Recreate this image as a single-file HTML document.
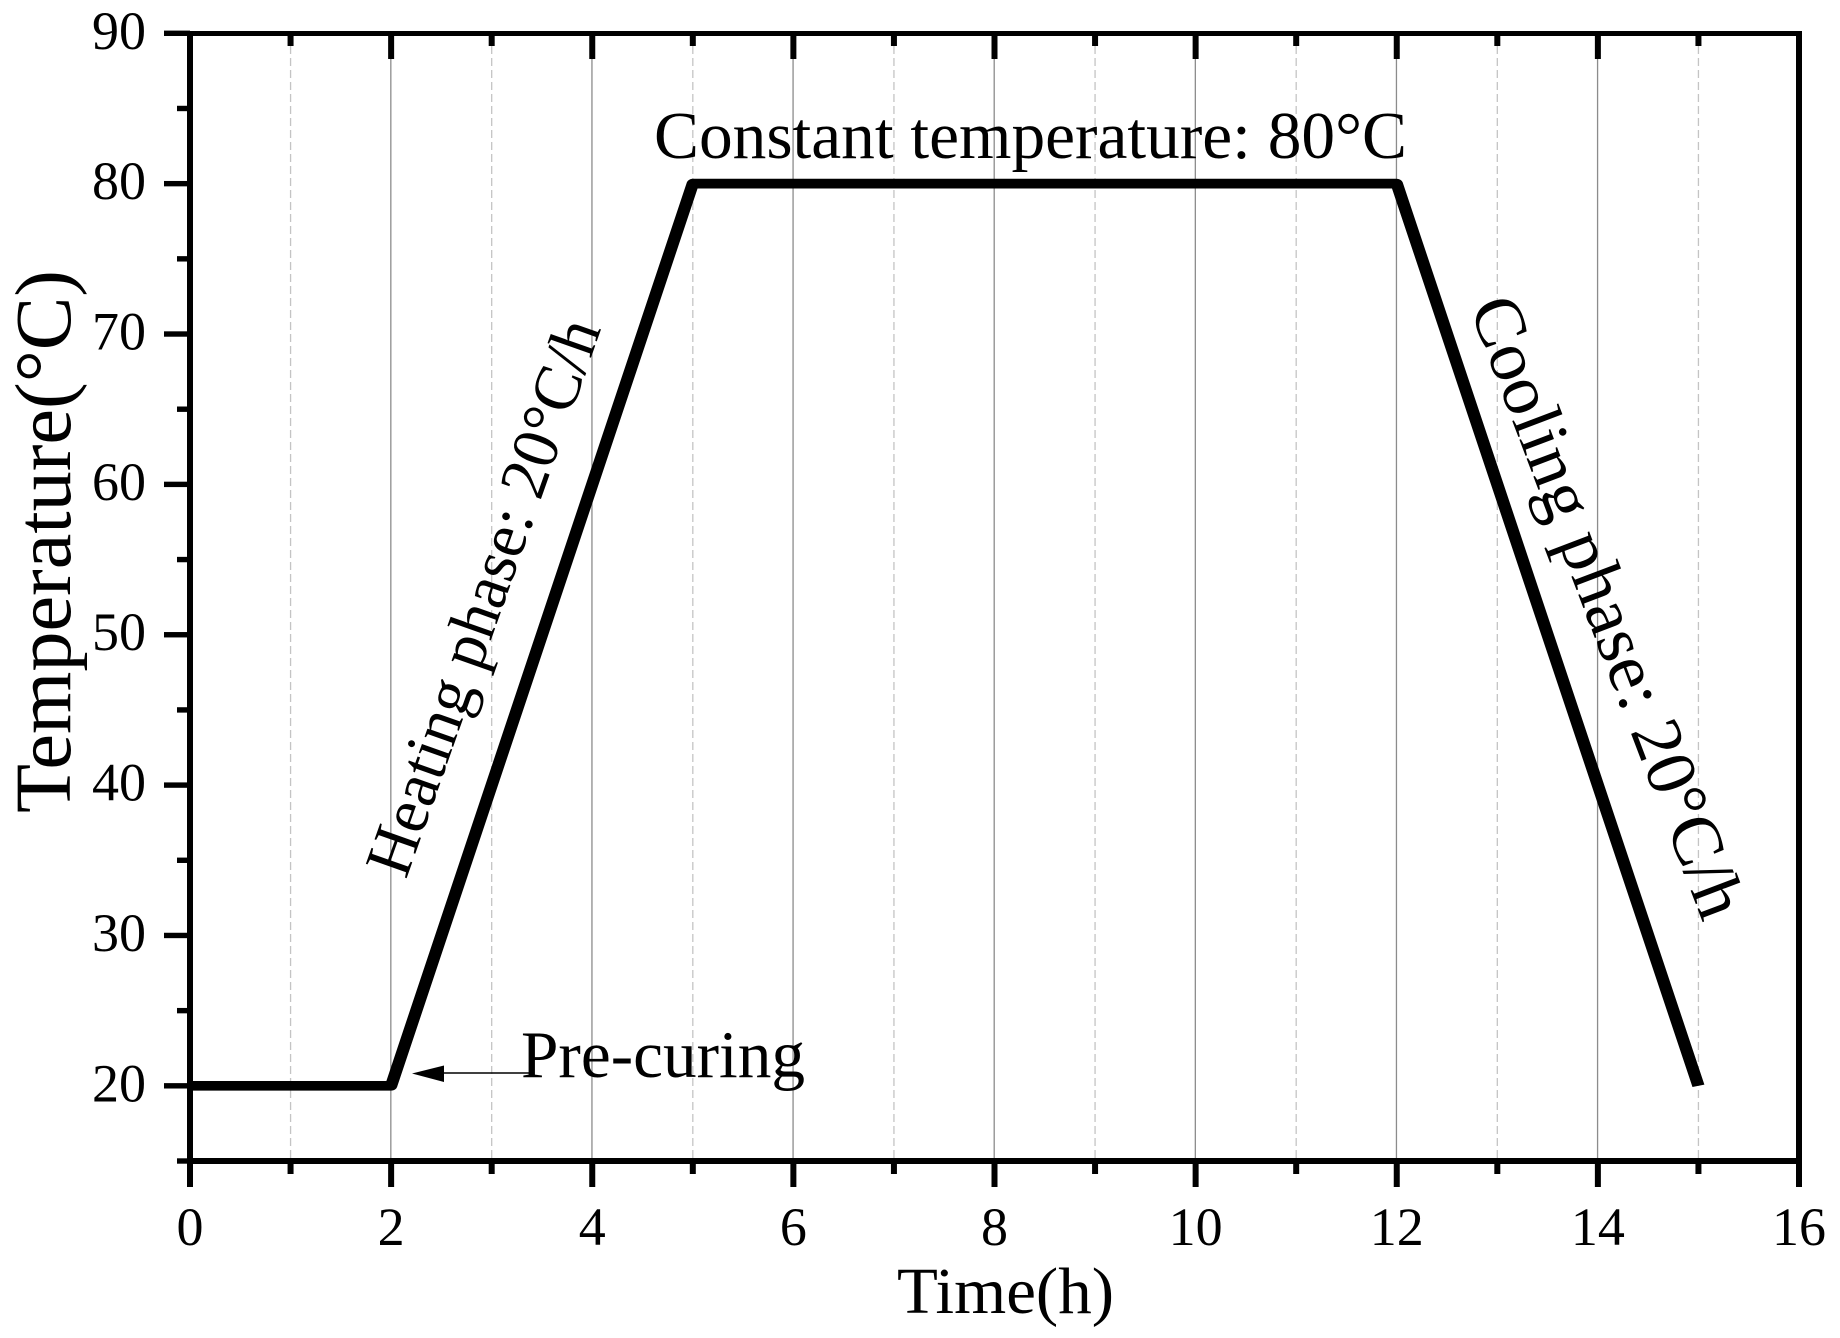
<!DOCTYPE html>
<html lang="en">
<head>
<meta charset="utf-8">
<title>Temperature vs Time</title>
<style>
html,body{margin:0;padding:0;background:#fff;width:1840px;height:1338px;overflow:hidden}
svg{display:block}
text{font-family:"Liberation Serif",serif;fill:#000}
</style>
</head>
<body>
<svg id="chart" width="1840" height="1338" viewBox="0 0 1840 1338" xmlns="http://www.w3.org/2000/svg">
  <rect x="0" y="0" width="1840" height="1338" fill="#fff"/>
  <g id="grid"></g>
  <g id="series"></g>
  <g id="axes"></g>
  <g id="labels"></g>
  <text x="897" y="1313" font-size="66" textLength="217" lengthAdjust="spacingAndGlyphs">Time(h)</text>
  <text transform="translate(70 813) rotate(-90)" font-size="79" textLength="543" lengthAdjust="spacingAndGlyphs">Temperature(°C)</text>
  <text x="654" y="158" font-size="67" textLength="753" lengthAdjust="spacingAndGlyphs">Constant temperature: 80°C</text>
  <text x="521" y="1077" font-size="67" textLength="284" lengthAdjust="spacingAndGlyphs">Pre-curing</text>
  <text transform="translate(406 880) rotate(-70.5)" font-size="66" textLength="585" lengthAdjust="spacingAndGlyphs">Heating phase: 20°C/h</text>
  <text transform="translate(1469 307) rotate(69.2)" font-size="71" textLength="659" lengthAdjust="spacingAndGlyphs">Cooling phase: 20°C/h</text>
  <line x1="443" y1="1073" x2="530" y2="1073" stroke="#000" stroke-width="1.5"/>
  <polygon points="412,1073.5 444,1065.5 444,1082" fill="#000"/>
</svg>
<script>
const timeValues = [0, 2, 5, 12, 15];
const temperatureValues = [20, 20, 80, 80, 20];
const xMajorTicks = [0, 2, 4, 6, 8, 10, 12, 14, 16];
const xMinorTicks = [1, 3, 5, 7, 9, 11, 13, 15];
const yMajorTicks = [20, 30, 40, 50, 60, 70, 80, 90];
const yMinorTicks = [15, 25, 35, 45, 55, 65, 75, 85];
const xDomain = [0, 16];
const yDomain = [15, 90];

const NS = 'http://www.w3.org/2000/svg';
const plotLeft = 190, plotRight = 1799, plotTop = 33.3, plotBottom = 1161;
const strokeStretch = 1.27;
const xScale = function (v) { return plotLeft + (v - xDomain[0]) / (xDomain[1] - xDomain[0]) * (plotRight - plotLeft); };
const yScale = function (v) { return plotBottom - (v - yDomain[0]) / (yDomain[1] - yDomain[0]) * (plotBottom - plotTop); };

function mk(tag, attrs, parent) {
  const el = document.createElementNS(NS, tag);
  for (const k in attrs) el.setAttribute(k, attrs[k]);
  parent.appendChild(el);
  return el;
}
const grid = document.getElementById('grid');
const axes = document.getElementById('axes');
const series = document.getElementById('series');
const labels = document.getElementById('labels');

xMajorTicks.forEach(function (v) {
  const x = xScale(v);
  if (v !== xDomain[0] && v !== xDomain[1]) {
    const g = mk('line', { x1: x - 0.3, x2: x - 0.3, y1: 59, y2: 1158, stroke: '#8c8c8c', 'stroke-width': 1.3 }, grid);
    
    
    const top = mk('rect', { x: x - 3, y: 33, width: 6, height: 26, fill: '#000' }, axes);
    
    
  }
  const t = mk('rect', { x: x - 3, y: 1161, width: 6, height: 26, fill: '#000' }, axes);
  
  
  const lab = mk('text', { x: x, y: 1245, 'font-size': 54, 'text-anchor': 'middle' }, labels);
  lab.textContent = String(v);
  
  
});

xMinorTicks.forEach(function (v) {
  const x = xScale(v);
  const g = mk('line', { x1: x, x2: x, y1: 46, y2: 1158, stroke: '#c4c4c4', 'stroke-width': 1.3, 'stroke-dasharray': '8 4' }, grid);
  
  
  const top = mk('rect', { x: x - 3, y: 33, width: 6, height: 13, fill: '#000' }, axes);
  
  
  const t = mk('rect', { x: x - 3, y: 1161, width: 6, height: 13, fill: '#000' }, axes);
  
  
});

yMajorTicks.forEach(function (v) {
  const y = yScale(v);
  const t = mk('rect', { x: 164, y: y - 2.7, width: 26, height: 5.4, fill: '#000' }, axes);
  
  
  const lab = mk('text', { x: 146, y: y + 15.5, 'font-size': 54, 'text-anchor': 'end' }, labels);
  lab.textContent = String(v);
  
  
});

yMinorTicks.forEach(function (v) {
  const y = yScale(v);
  const t = mk('rect', { x: 177, y: y - 2.7, width: 13, height: 5.4, fill: '#000' }, axes);
  
  
});

const leftSpine = mk('rect', { x: 187, y: 31, width: 6, height: 1156, fill: '#000' }, axes);


const rightSpine = mk('rect', { x: 1796, y: 31, width: 6, height: 1156, fill: '#000' }, axes);


const topSpine = mk('rect', { x: 187, y: 31, width: 1615, height: 5, fill: '#000' }, axes);


const bottomSpine = mk('rect', { x: 187, y: 1158, width: 1615, height: 6, fill: '#000' }, axes);



const pts = timeValues.map(function (t, i) { return (xScale(t) / strokeStretch).toFixed(2) + ',' + yScale(temperatureValues[i]).toFixed(2); }).join(' ');
const curve = mk('polyline', { points: pts, transform: 'scale(' + strokeStretch + ' 1)', fill: 'none', stroke: '#000', 'stroke-width': 9.7, 'stroke-linejoin': 'round', 'stroke-linecap': 'butt' }, series);


</script>
</body>
</html>
